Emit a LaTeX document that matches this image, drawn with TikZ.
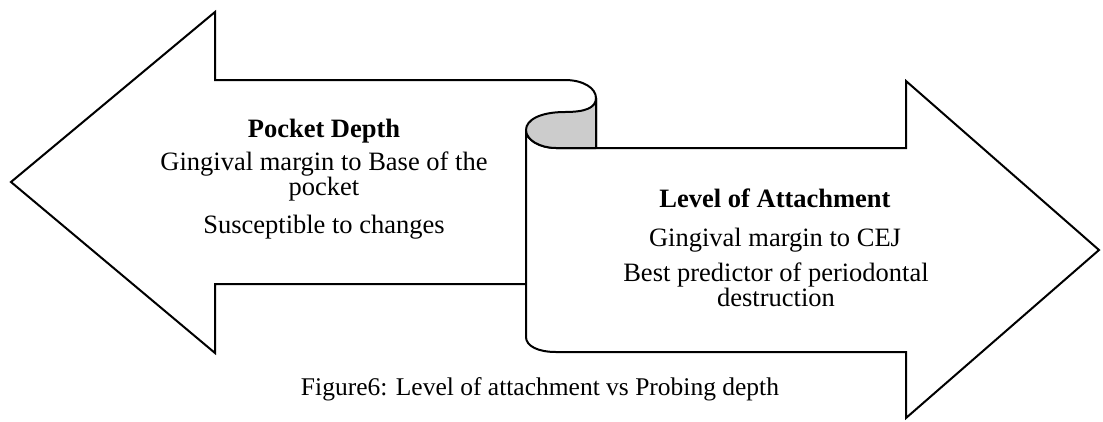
\documentclass[tikz,border=0pt]{standalone}
\usepackage{fontspec}
\setmainfont{Liberation Serif}
\begin{document}
\begin{tikzpicture}[x=1pt,y=-1pt,
  outline/.style={draw=black,line width=2pt,line join=miter,fill=white},
  body/.style={font=\fontsize{26.5}{25}\selectfont,anchor=base,inner sep=0pt},
  title/.style={font=\fontsize{26.5}{25}\selectfont\bfseries,anchor=base,inner sep=0pt},
  caption/.style={font=\fontsize{25.5}{28}\selectfont,anchor=base,inner sep=0pt}]
\useasboundingbox (0,0) rectangle (1103,421);
% left arrow
\draw[outline] (526,284) -- (215,284) -- (215,353) -- (11,182) -- (215,12) -- (215,80) -- (565,80)
  .. controls (583,80) and (596,88) .. (596,98) -- (596,148) -- (526,148) -- cycle;
\draw[line width=2pt,white] (527,284) -- (595,284);
% right arrow (scroll)
\draw[outline] (526,130) -- (526,337) .. controls (526,346) and (538,352) .. (556,352)
  -- (906,352) -- (906,418) -- (1099,250) -- (906,81) -- (906,148) -- (556,148)
  .. controls (540,148) and (526,140) .. (526,130) -- cycle;
% curl
\draw[line width=2pt,fill=gray!40,line join=round] (596,98) .. controls (596,108) and (585,112) .. (565,112)
  .. controls (540,112) and (526,120) .. (526,130)
  .. controls (526,140) and (540,148) .. (556,148) -- (596,148) -- cycle;
% left text
\node[title] (pt) at (324,137) {Pocket Depth};
\node[body] (pl1) at (324,170) {Gingival margin to Base of the};
\node[body] (pl2) at (324,195) {pocket};
\node[body] (pl3) at (324,233) {Susceptible to changes};
% right text
\node[title] (at) at (775,207) {Level of Attachment};
\node[body] (al1) at (775,246) {Gingival margin to CEJ};
\node[body] (al2) at (776,281) {Best predictor of periodontal};
\node[body] (al3) at (776,306) {destruction};
% caption
\node[caption] (cap) at (540,395) {Figure6: Level of attachment vs Probing depth};
\end{tikzpicture}
\end{document}
